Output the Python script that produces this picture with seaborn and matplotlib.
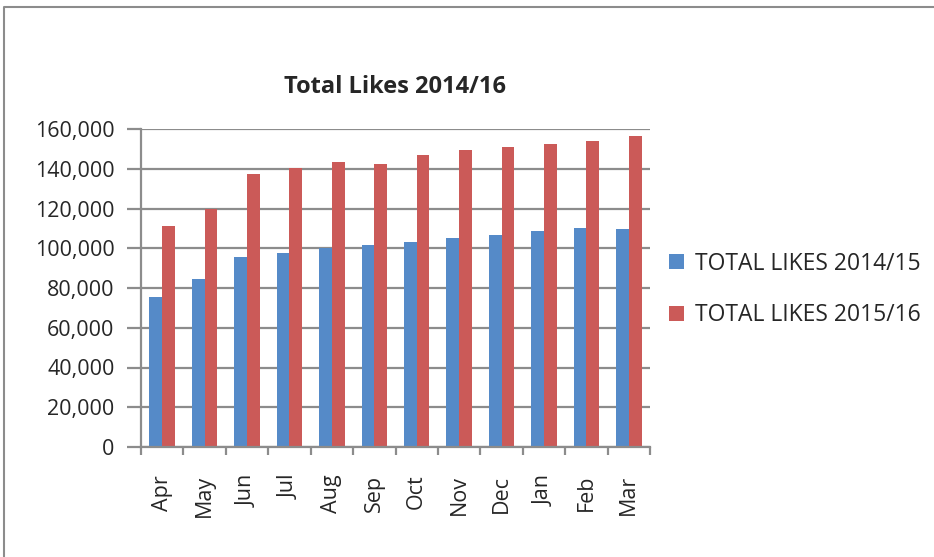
import pandas as pd
import numpy as np
import matplotlib.pyplot as plt
import seaborn as sns
from matplotlib.lines import Line2D
from matplotlib.ticker import FuncFormatter, MultipleLocator

months = ['Apr', 'May', 'Jun', 'Jul', 'Aug', 'Sep', 'Oct', 'Nov', 'Dec', 'Jan', 'Feb', 'Mar']
likes_1415 = [75500, 84400, 95400, 97800, 100100, 101600, 103000, 105000, 106700, 108700, 110300, 109800]
likes_1516 = [111000, 119600, 137200, 140500, 143400, 142500, 146900, 149400, 150900, 152300, 154000, 156600]
series_names = ['TOTAL LIKES 2014/15', 'TOTAL LIKES 2015/16']

df = pd.DataFrame({
    'Month': months * 2,
    'Likes': likes_1415 + likes_1516,
    'Series': [series_names[0]] * len(months) + [series_names[1]] * len(months),
})

sns.set_style('white')
plt.rcParams['font.family'] = ['Open Sans', 'DejaVu Sans']

fig = plt.figure(figsize=(9.34, 5.57), dpi=100)
ax = fig.add_axes([141 / 934, 1 - 447 / 557, (650 - 141) / 934, (447 - 129) / 557])

sns.barplot(data=df, x='Month', y='Likes', hue='Series', order=months,
            palette=['#558ac8', '#cb5a58'], width=0.6, gap=0, ax=ax,
            saturation=1, linewidth=0)

grid_c = '#8c8c8c'
ax.set_ylim(0, 160000)
ax.set_xlim(-0.5, len(months) - 0.5)
ax.yaxis.set_major_locator(MultipleLocator(20000))
ax.yaxis.set_major_formatter(FuncFormatter(lambda v, p: f'{int(v):,}'))
ax.grid(axis='y', color=grid_c, linewidth=1.6)
ax.set_axisbelow(True)
for s in ['top', 'right']:
    ax.spines[s].set_visible(False)
for s in ['left', 'bottom']:
    ax.spines[s].set_color(grid_c)
    ax.spines[s].set_linewidth(1.6)

ax.set_xticks(np.arange(len(months)))
ax.set_xticklabels(months, rotation=90, fontsize=15.5)
ax.set_xticks(np.arange(len(months) + 1) - 0.5, minor=True)
ax.tick_params(axis='x', which='major', length=0, pad=20)
ax.tick_params(axis='x', which='minor', length=6, width=1.6, color=grid_c, direction='out', bottom=True)
ax.tick_params(axis='y', length=10, width=1.6, color=grid_c, direction='out', left=True, labelsize=15.5, pad=9)
ax.set_xlabel('')
ax.set_ylabel('')
ax.set_title('Total Likes 2014/16', fontsize=17, fontweight='bold', pad=26)

handles, labels = ax.get_legend_handles_labels()
ax.legend(handles, labels, loc='center left', bbox_to_anchor=(0.997, 0.495), frameon=False,
          fontsize=16.5, handlelength=0.65, handleheight=0.65, handletextpad=0.5, labelspacing=1.2)

# chart-area border (top and left edges visible in the original)
fig.lines.append(Line2D([4 / 934, 4 / 934, 1], [0, 1 - 7 / 557, 1 - 7 / 557],
                        transform=fig.transFigure, color='#8c8c8c', linewidth=1.5))

fig.savefig('out.png', dpi=100)
